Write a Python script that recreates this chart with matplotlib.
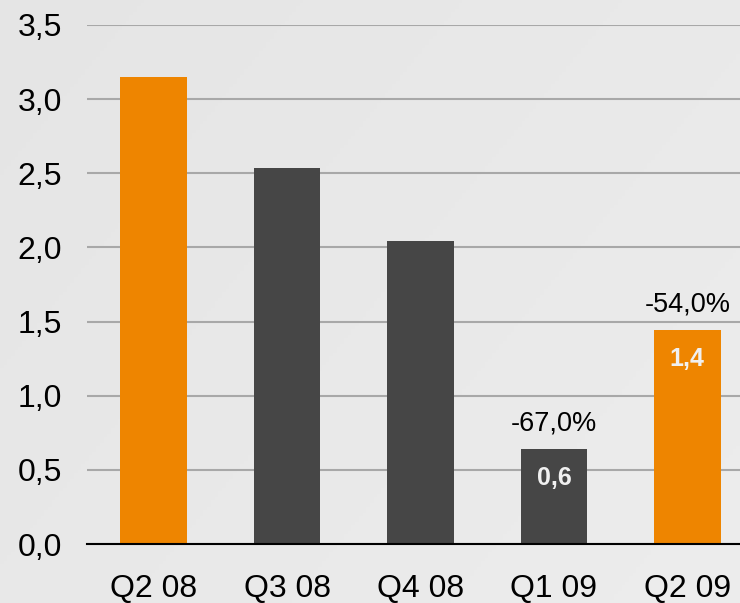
import numpy as np
import matplotlib
matplotlib.use("Agg")
import matplotlib.pyplot as plt

plt.rcParams["font.family"] = ["Liberation Sans", "DejaVu Sans"]

quarters = ["Q2 08", "Q3 08", "Q4 08", "Q1 09", "Q2 09"]
values = [3.15, 2.535, 2.04, 0.64, 1.443]
bar_colors = ["#ee8500", "#464646", "#464646", "#464646", "#ee8500"]
inside_labels = {3: "0,6", 4: "1,4"}
change_labels = {3: "-67,0%", 4: "-54,0%"}
yticks = [0.0, 0.5, 1.0, 1.5, 2.0, 2.5, 3.0, 3.5]

fig = plt.figure(figsize=(7.4, 6.03), dpi=100)

# soft grey gradient background
bg = fig.add_axes([0, 0, 1, 1], zorder=-10)
gx, gy = np.meshgrid(np.linspace(0, 1, 200), np.linspace(0, 1, 200))
grad = 0.895 + 0.03 * (0.6 * gx + 0.4 * gy)
bg.imshow(grad, cmap="gray", vmin=0, vmax=1, aspect="auto", extent=[0, 1, 0, 1], origin="upper")
bg.axis("off")

ax = fig.add_axes([87 / 740, 1 - 544 / 603, 1 - 87 / 740, 519 / 603])
ax.patch.set_alpha(0)

x = np.arange(len(quarters))
ax.bar(x, values, width=0.5, color=bar_colors, zorder=3)

ax.set_ylim(0, 3.5)
ax.set_xlim(-0.5, 4.5 - 14 / 133.5)
ax.set_yticks(yticks)
ax.set_yticklabels([f"{v:.1f}".replace(".", ",") for v in yticks], fontsize=23)
ax.set_xticks(x)
ax.set_xticklabels(quarters, fontsize=23)
ax.tick_params(axis="y", length=0, pad=18)
ax.tick_params(axis="x", length=0, pad=21.5)

ax.grid(axis="y", color="#a8a8a8", linewidth=1.5, zorder=0)
for s in ["top", "right", "left"]:
    ax.spines[s].set_visible(False)
ax.spines["bottom"].set_color("black")
ax.spines["bottom"].set_linewidth(1.5)
ax.spines["bottom"].set_zorder(4)

for i, txt in inside_labels.items():
    ax.annotate(txt, (x[i], values[i]), xytext=(0, -29), textcoords="offset pixels",
                ha="center", va="center", fontsize=18, fontweight="bold", color="#f0f0f0", zorder=5)
for i, txt in change_labels.items():
    ax.annotate(txt, (x[i], values[i]), xytext=(0, 26), textcoords="offset pixels",
                ha="center", va="center", fontsize=19.5, color="black", zorder=5)

fig.savefig("out.png", dpi=100)
